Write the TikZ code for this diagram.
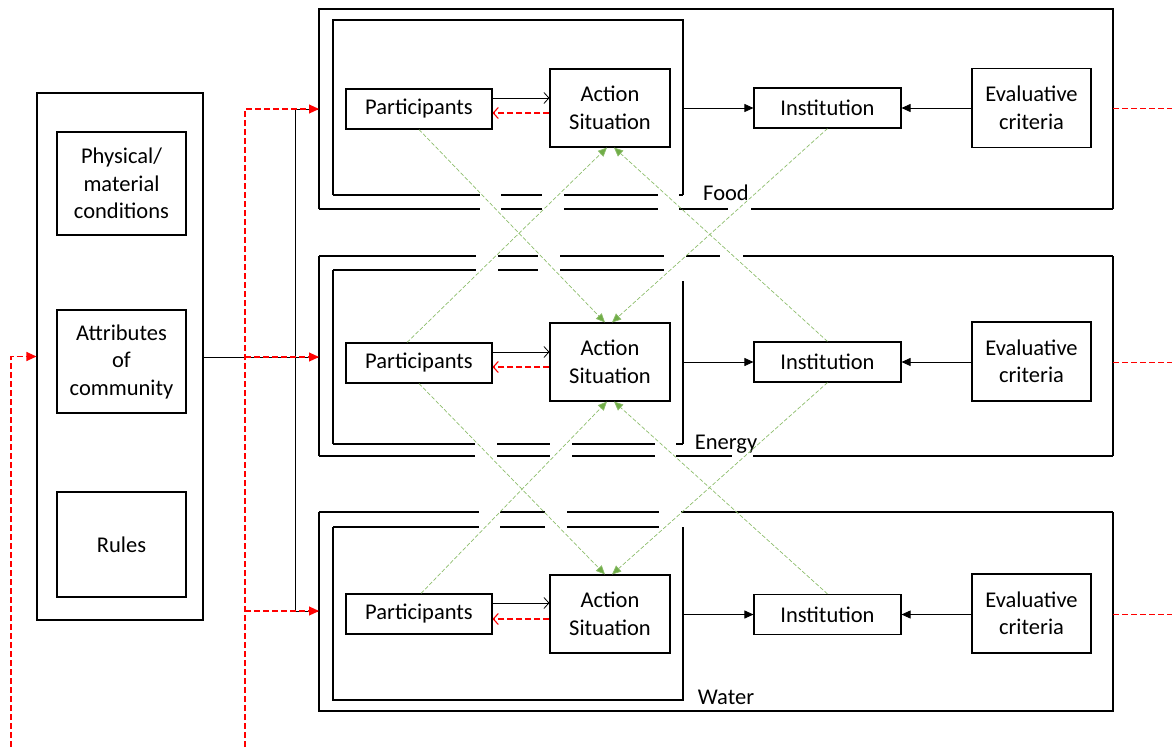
\documentclass[tikz,border=0pt]{standalone}
\usepackage{fontspec}
\setmainfont{Carlito}
\usetikzlibrary{arrows.meta}
\definecolor{gline}{RGB}{112,173,71}
\begin{document}
\begin{tikzpicture}[x=1pt,y=-1pt,
  box/.style={draw, line width=1.1pt, inner sep=0pt, align=center, font=\fontsize{22.5}{27.5}\selectfont},
  lbl/.style={inner sep=0pt, font=\fontsize{22.5}{27.5}\selectfont},
  frame/.style={line width=1.2pt},
  blk/.style={line width=0.8pt},
  rd/.style={draw=red, line width=1.1pt, dash pattern=on 6pt off 3pt},
  rdthin/.style={draw=red, line width=0.8pt, dash pattern=on 6pt off 3pt},
  gl/.style={draw=gline!80, line width=0.7pt, dash pattern=on 4pt off 2pt, -{Triangle[length=9pt,width=8pt,fill=gline]}},
  tri/.style={-{Triangle[length=9pt,width=8pt]}},
  rtri/.style={-{Triangle[length=10pt,width=9pt,color=red,fill=red]}},
  rbarb/.style={-{Straight Barb[length=5pt,width=11pt,color=red]}},
  barb/.style={-{Straight Barb[length=5pt,width=11pt]}}
]
\useasboundingbox (0,0) rectangle (1172,747);

% ---------- left column ----------
\node[box, minimum width=166pt, minimum height=527pt] (leftbox) at (120,356.5) {};
\node[box, minimum width=129pt, minimum height=103pt] (phys) at (121.5,183.5) {Physical/\\material\\conditions};
\node[box, minimum width=129pt, minimum height=103pt] (attr) at (121.5,361.5) {Attributes\\of\\community};
\node[box, minimum width=129pt, minimum height=105pt] (rules) at (121.5,544.5) {Rules};

% ---------- panel frames (with line jumps) ----------
% Food
\draw[frame] (319,209) -- (319,9) -- (1113,9) -- (1113,209);
\foreach \a/\b in {319/480,501/542,564/658,679/728,751/1113} \draw[frame] (\a,209) -- (\b,209);
\draw[frame] (333,195) -- (333,20) -- (683,20) -- (683,195);
\foreach \a/\b in {333/480,501/542,564/658,679/683} \draw[frame] (\a,195) -- (\b,195);
% Energy
\draw[frame] (319,256) -- (319,456);
\draw[frame] (1113,256) -- (1113,456);
\foreach \a/\b in {319/476,498/538,560/664,686/720,743/1113} \draw[frame] (\a,256) -- (\b,256);
\foreach \a/\b in {319/475,497/550,572/655,676/732,753/1113} \draw[frame] (\a,456) -- (\b,456);
\draw[frame] (333,270) -- (333,444);
\draw[frame] (683,281) -- (683,444);
\foreach \a/\b in {333/476,498/538,560/664} \draw[frame] (\a,270) -- (\b,270);
\foreach \a/\b in {333/475,497/550,572/655,676/683} \draw[frame] (\a,444) -- (\b,444);
% Water
\draw[frame] (319,512) -- (319,711) -- (1113,711) -- (1113,512);
\foreach \a/\b in {319/479,500/545,567/659,681/1113} \draw[frame] (\a,512) -- (\b,512);
\draw[frame] (683,527) -- (683,700) -- (333,700) -- (333,527);
\foreach \a/\b in {333/479,500/545,567/659} \draw[frame] (\a,527) -- (\b,527);

\node[lbl] (labF) at (726,193) {Food};
\node[lbl] (labE) at (726,444) {Energy};
\node[lbl] (labW) at (726,697) {Water};

% ---------- panel nodes ----------
\foreach \s/\py/\ay/\iy/\ey in {F/109/108/108/108, E/363/362/362/361.5, W/614/614/614.5/613.5}{
  \node[box, minimum width=146pt, minimum height=40pt] (p\s) at (419,\py) {Participants};
  \node[box, minimum width=120pt, minimum height=78pt] (a\s) at (610,\ay) {Action\\Situation};
  \node[box, minimum width=147pt, minimum height=40pt] (i\s) at (827.5,\iy) {Institution};
  \node[box, minimum width=119pt, minimum height=79pt] (e\s) at (1031.5,\ey) {Evaluative\\criteria};
  \coordinate (arena\s) at (683,\iy);
  \coordinate (out\s) at (1113,\iy);
  \coordinate (edge\s) at (1172,\iy);
  \draw[blk, barb] ([yshift=11pt]p\s.east) -- ([yshift=11pt]p\s.east -| a\s.west);
  \draw[rd, rbarb] ([yshift=-5pt]a\s.west) -- ([yshift=-5pt]a\s.west -| p\s.east);
  \draw[blk, tri] (arena\s) -- (i\s.west);
  \draw[blk, tri] (e\s.west |- i\s.east) -- (i\s.east);
  \draw[rdthin] (out\s) -- (edge\s);
}

% ---------- green cross links ----------
\draw[gl] (pF.south) -- ([xshift=-5pt]aE.north);
\draw[gl] ([xshift=-12pt]pE.north) -- ([xshift=-3pt]aF.south);
\draw[gl] (iF.south) -- ([xshift=2pt]aE.north);
\draw[gl] (iE.north) -- ([xshift=4pt]aF.south);
\draw[gl] (pE.south) -- ([xshift=-5pt]aW.north);
\draw[gl] ([xshift=2pt]pW.north) -- ([xshift=-3pt]aE.south);
\draw[gl] (iE.south) -- ([xshift=2pt]aW.north);
\draw[gl] (iW.north) -- ([xshift=4pt]aE.south);

% ---------- feeds on the left ----------
\coordinate (inF) at (319,109);
\coordinate (inE) at (319,357);
\coordinate (inW) at (319,611);
\coordinate (jTop) at (295,109);
\coordinate (jBot) at (295,611);
\coordinate (rTop) at (245,109);
\coordinate (rBot) at (245,747);
\coordinate (lBot) at (11,747);
\draw[blk] (leftbox.east |- inE) -- (inE);
\draw[blk] (inF) -- (jTop) -- (jBot) -- (inW);
\draw[rd, rtri] (rBot) -- (rTop) -- (inF);
\draw[rd, rtri] (rTop |- inE) -- (inE);
\draw[rd, rtri] (rTop |- inW) -- (inW);
\draw[rd, rtri] (lBot) -- (lBot |- leftbox.west) -- (leftbox.west);
\end{tikzpicture}
\end{document}
